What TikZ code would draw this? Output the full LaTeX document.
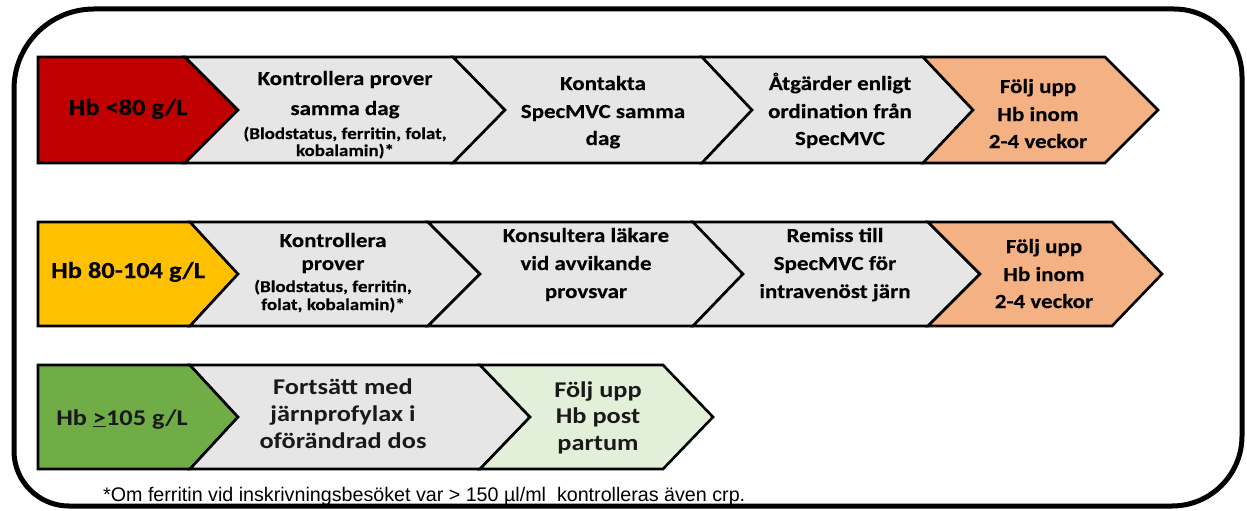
\documentclass[tikz,border=0pt]{standalone}
\usepackage{fontspec}
\setmainfont{Carlito}
\newfontfamily\calf[FakeStretch=1.15,BoldFeatures={FakeBold=0.3}]{Carlito}
\newfontfamily\calr[FakeStretch=1.17]{Carlito}
\newfontfamily\arialf{Liberation Sans}
\definecolor{hbred}{HTML}{C00000}
\definecolor{hbyellow}{HTML}{FFC000}
\definecolor{hbgreen}{HTML}{70AD47}
\definecolor{hborange}{HTML}{F4B183}
\definecolor{hblgreen}{HTML}{E2F0D9}
\definecolor{hbgray}{HTML}{E6E6E6}
\begin{document}
\begin{tikzpicture}[x=1pt,y=-1pt,
  chev/.style={draw=black,line width=2.6pt,line join=miter,miter limit=6},
  txt/.style={anchor=base,inner sep=0pt,font=\calf\bfseries\fontsize{20}{20}\selectfont},
  lbl/.style={anchor=base,inner sep=0pt,font=\calf\bfseries\fontsize{23}{23}\selectfont},
  sml/.style={anchor=base,inner sep=0pt,font=\calf\bfseries\fontsize{16.5}{16.5}\selectfont},
  txtr/.style={anchor=base,inner sep=0pt,font=\calr\bfseries\fontsize{22.5}{22.5}\selectfont,text=black!90},
]
\useasboundingbox (0,0) rectangle (1247,511);
% outer frame
\draw[line width=5pt] (94,9) -- (1174,9) arc(270:360:68) -- (1242,436) arc(0:90:70)
  -- (69,506) arc(90:180:55) -- (14,89) arc(180:270:80) -- cycle;

% ---------- row 1 ----------
\filldraw[chev,fill=hbred] (38,57) -- (185,57) -- (238,110) -- (185,163) -- (38,163) -- cycle;
\filldraw[chev,fill=hbgray] (185,57) -- (453,57) -- (505,110) -- (453,163) -- (185,163) -- (238,110) -- cycle;
\filldraw[chev,fill=hbgray] (453,57) -- (702,57) -- (752,110) -- (702,163) -- (453,163) -- (505,110) -- cycle;
\filldraw[chev,fill=hbgray] (702,57) -- (923,57) -- (973,110) -- (923,163) -- (702,163) -- (752,110) -- cycle;
\filldraw[chev,fill=hborange] (923,57) -- (1105,57) -- (1158,110) -- (1105,163) -- (923,163) -- (973,110) -- cycle;

\node[lbl] (r1l) at (128,115) {Hb <80 g/L};
\node[txt] (r1a1) at (345,85) {Kontrollera prover};
\node[txt] (r1a2) at (345,115) {samma dag};
\node[sml] (r1a3) at (345,139) {(Blodstatus, ferritin, folat,};
\node[sml] (r1a4) at (345,156) {kobalamin)*};
\node[txt] (r1b1) at (603,90) {Kontakta};
\node[txt] (r1b2) at (603,118) {SpecMVC samma};
\node[txt] (r1b3) at (603,145) {dag};
\node[txt] (r1c1) at (840,90) {Åtgärder enligt};
\node[txt] (r1c2) at (840,118) {ordination från};
\node[txt] (r1c3) at (840,145) {SpecMVC};
\node[txt] (r1d1) at (1038,93) {Följ upp};
\node[txt] (r1d2) at (1038,121) {Hb inom};
\node[txt] (r1d3) at (1038,148) {2-4 veckor};

% ---------- row 2 ----------
\filldraw[chev,fill=hbyellow] (38,222) -- (190,222) -- (238,274) -- (190,326) -- (38,326) -- cycle;
\filldraw[chev,fill=hbgray] (190,222) -- (428,222) -- (480,274) -- (428,326) -- (190,326) -- (238,274) -- cycle;
\filldraw[chev,fill=hbgray] (428,222) -- (693,222) -- (743,274) -- (693,326) -- (428,326) -- (480,274) -- cycle;
\filldraw[chev,fill=hbgray] (693,222) -- (928,222) -- (980,274) -- (928,326) -- (693,326) -- (743,274) -- cycle;
\filldraw[chev,fill=hborange] (928,222) -- (1112,222) -- (1162,274) -- (1112,326) -- (928,326) -- (980,274) -- cycle;

\node[lbl] (r2l) at (128,278) {Hb 80-104 g/L};
\node[txt] (r2a1) at (333,247) {Kontrollera};
\node[txt] (r2a2) at (333,270) {prover};
\node[sml] (r2a3) at (333,292) {(Blodstatus, ferritin,};
\node[sml] (r2a4) at (333,310) {folat, kobalamin)*};
\node[txt] (r2b1) at (586,242) {Konsultera läkare};
\node[txt] (r2b2) at (586,270) {vid avvikande};
\node[txt] (r2b3) at (586,298) {provsvar};
\node[txt] (r2c1) at (835,242) {Remiss till};
\node[txt] (r2c2) at (835,270) {SpecMVC för};
\node[txt] (r2c3) at (835,298) {intravenöst järn};
\node[txt] (r2d1) at (1044,253) {Följ upp};
\node[txt] (r2d2) at (1044,281) {Hb inom};
\node[txt] (r2d3) at (1044,308) {2-4 veckor};

% ---------- row 3 ----------
\filldraw[chev,fill=hbgreen] (38,365) -- (190,365) -- (238,417) -- (190,469) -- (38,469) -- cycle;
\filldraw[chev,fill=hbgray] (190,365) -- (480,365) -- (530,417) -- (480,469) -- (190,469) -- (238,417) -- cycle;
\filldraw[chev,fill=hblgreen] (480,365) -- (663,365) -- (713,417) -- (663,469) -- (480,469) -- (530,417) -- cycle;

\node[txtr] (r3l) at (122,425) {Hb \underline{>}105 g/L};
\node[txtr] (r3a1) at (343,394) {Fortsätt med};
\node[txtr] (r3a2) at (343,421) {järnprofylax i};
\node[txtr] (r3a3) at (343,448) {oförändrad dos};
\node[txtr] (r3b1) at (598,397) {Följ upp};
\node[txtr] (r3b2) at (598,423) {Hb post};
\node[txtr] (r3b3) at (598,450) {partum};

% footnote
\node[anchor=base west,inner sep=0pt,font=\arialf\fontsize{16}{16}\selectfont] (note) at (103,501)
  {\resizebox{642pt}{!}{*Om ferritin vid inskrivningsbesöket var > 150 µl/ml~ kontrolleras även crp.}};
\end{tikzpicture}
\end{document}
